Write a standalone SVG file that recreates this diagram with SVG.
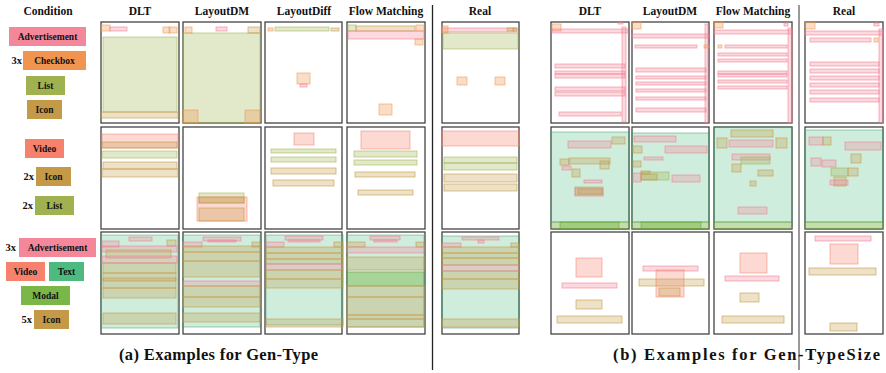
<svg xmlns="http://www.w3.org/2000/svg" width="886" height="373" viewBox="0 0 886 373">
<style>
text{font-family:"Liberation Serif","DejaVu Serif",serif;font-weight:bold;fill:#111}
.h{font-size:11.5px;text-anchor:middle}
.c{font-size:9.5px;text-anchor:middle}
.n{font-size:10.5px;text-anchor:end}
.cap{font-size:16.5px}
.f{fill:#fff;stroke:#444;stroke-width:1.3}
.ad{fill:#f4889a;fill-opacity:.32;stroke:#f0788e;stroke-opacity:.6;stroke-width:.9}
.cb{fill:#f0944f;fill-opacity:.32;stroke:#f0944f;stroke-opacity:.6;stroke-width:.9}
.li{fill:#9fb24f;fill-opacity:.3;stroke:#9fb24f;stroke-opacity:.6;stroke-width:.9}
.ic{fill:#c49a48;fill-opacity:.3;stroke:#c49a48;stroke-opacity:.65;stroke-width:.9}
.vi{fill:#f6826e;fill-opacity:.3;stroke:#f6826e;stroke-opacity:.6;stroke-width:.9}
.tx{fill:#4dbb80;fill-opacity:.27;stroke:#2e9a60;stroke-opacity:.5;stroke-width:.9}
.mo{fill:#7ab648;fill-opacity:.45;stroke:#5a9a38;stroke-opacity:.5;stroke-width:.9}
</style>
<rect width="886" height="373" fill="#fff"/>

<g id="headers">
<text class="h" x="48" y="15">Condition</text>
<text class="h" x="140" y="15">DLT</text>
<text class="h" x="222" y="15">LayoutDM</text>
<text class="h" x="304" y="15">LayoutDiff</text>
<text class="h" x="386" y="15">Flow Matching</text>
<text class="h" x="480" y="15">Real</text>
<text class="h" x="590" y="15">DLT</text>
<text class="h" x="670" y="15">LayoutDM</text>
<text class="h" x="753" y="15">Flow Matching</text>
<text class="h" x="844" y="15">Real</text>
</g>

<g id="separators">
<line x1="432.5" y1="5" x2="432.5" y2="370" stroke="#222" stroke-width="1.3"/>
<line x1="799" y1="5" x2="799" y2="370" stroke="#777" stroke-width="1.5"/>
</g>

<g id="cond1">
<rect x="9" y="27" width="77" height="19" fill="#f4889a"/><text class="c" x="47.5" y="40">Advertisement</text>
<text class="n" x="22" y="64">3x</text>
<rect x="23" y="51" width="63" height="19" fill="#f0944f"/><text class="c" x="54.5" y="64">Checkbox</text>
<rect x="26" y="76" width="39" height="19" fill="#9fb24f"/><text class="c" x="45.5" y="89">List</text>
<rect x="27" y="100" width="35" height="19" fill="#c49a48"/><text class="c" x="44.5" y="113">Icon</text>
</g>
<g id="cond2">
<rect x="25" y="139" width="39" height="19" fill="#f6826e"/><text class="c" x="44.5" y="152">Video</text>
<text class="n" x="34" y="180">2x</text>
<rect x="36" y="167" width="35" height="19" fill="#c49a48"/><text class="c" x="53.5" y="180">Icon</text>
<text class="n" x="33" y="209">2x</text>
<rect x="35" y="196" width="39" height="19" fill="#9fb24f"/><text class="c" x="54.5" y="209">List</text>
</g>
<g id="cond3">
<text class="n" x="16" y="251">3x</text>
<rect x="19" y="238" width="77" height="19" fill="#f4889a"/><text class="c" x="57.5" y="251">Advertisement</text>
<rect x="6" y="262" width="39" height="19" fill="#f6826e"/><text class="c" x="25.5" y="275">Video</text>
<rect x="49" y="262" width="35" height="19" fill="#4dbb80"/><text class="c" x="66.5" y="275">Text</text>
<rect x="21" y="286" width="49" height="19" fill="#7ab648"/><text class="c" x="45.5" y="299">Modal</text>
<text class="n" x="32" y="323">5x</text>
<rect x="34" y="310" width="35" height="19" fill="#c49a48"/><text class="c" x="51.5" y="323">Icon</text>
</g>

<g id="a-dlt-1">
<rect class="f" x="101" y="22" width="78" height="101"/>
<rect class="li" x="103" y="37" width="74" height="75"/>
<rect class="ic" x="101" y="112" width="77" height="6"/>
<rect class="cb" x="101" y="25" width="9" height="6"/>
<rect class="ad" x="110" y="27" width="17" height="4"/>
<rect class="cb" x="163" y="27" width="7" height="6"/>
<rect class="cb" x="169" y="27" width="8" height="6"/>
</g>
<g id="a-ldm-1">
<rect class="f" x="183" y="22" width="78" height="101"/>
<rect class="li" x="183" y="33" width="77" height="90"/>
<rect class="cb" x="185" y="27" width="7" height="6"/>
<rect class="ad" x="216" y="27" width="11" height="4"/>
<rect class="ic" x="248" y="27" width="12" height="6"/>
<rect class="cb" x="183" y="110" width="15" height="13"/>
<rect class="cb" x="245" y="110" width="15" height="13"/>
</g>
<g id="a-ldf-1">
<rect class="f" x="265" y="22" width="77" height="101"/>
<rect class="cb" x="268" y="28" width="5" height="3"/>
<rect class="li" x="275" y="27" width="54" height="4"/>
<rect class="ic" x="331" y="28" width="8" height="3"/>
<rect class="cb" x="297" y="73" width="13" height="11"/>
<rect class="ad" x="300" y="84" width="7" height="3"/>
</g>
<g id="a-fm-1">
<rect class="f" x="347" y="22" width="78" height="101"/>
<rect class="li" x="348" y="25" width="8" height="6"/>
<rect class="ic" x="356" y="26" width="59" height="5"/>
<rect class="cb" x="416" y="25" width="8" height="6"/>
<rect class="ad" x="348" y="31" width="76" height="8"/>
<rect class="cb" x="415" y="39" width="8" height="6"/>
<rect class="cb" x="379" y="104" width="13" height="11"/>
</g>
<g id="a-real-1">
<rect class="f" x="442" y="22" width="77" height="101"/>
<rect class="ad" x="442" y="28" width="75" height="4"/>
<rect class="cb" x="442" y="26" width="6" height="7"/>
<rect class="ic" x="507" y="28" width="7" height="3"/>
<rect class="ic" x="513" y="28" width="4" height="3"/>
<rect class="li" x="443" y="33" width="75" height="16"/>
<rect class="cb" x="457" y="77" width="10" height="8"/>
<rect class="cb" x="495" y="77" width="10" height="8"/>
</g>

<g id="a-dlt-2">
<rect class="f" x="101" y="127" width="78" height="102"/>
<rect class="vi" x="102" y="134" width="76" height="14"/>
<rect class="ic" x="102" y="142" width="75" height="6"/>
<rect class="li" x="102" y="151" width="75" height="7"/>
<rect class="ic" x="103" y="162" width="74" height="7"/>
<rect class="ic" x="102" y="169" width="76" height="8"/>
</g>
<g id="a-ldm-2">
<rect class="f" x="183" y="127" width="78" height="102"/>
<rect class="li" x="199" y="193" width="45" height="10"/>
<rect class="vi" x="197" y="197" width="50" height="24"/>
<rect class="ic" x="199" y="197" width="45" height="6"/>
<rect class="ic" x="199" y="208" width="45" height="13"/>
</g>
<g id="a-ldf-2">
<rect class="f" x="265" y="127" width="77" height="102"/>
<rect class="vi" x="294" y="133" width="20" height="12"/>
<rect class="li" x="271" y="149" width="65" height="4"/>
<rect class="li" x="271" y="157" width="65" height="5"/>
<rect class="ic" x="271" y="168" width="65" height="6"/>
<rect class="ic" x="273" y="180" width="61" height="6"/>
</g>
<g id="a-fm-2">
<rect class="f" x="347" y="127" width="78" height="102"/>
<rect class="vi" x="361" y="131" width="49" height="18"/>
<rect class="li" x="354" y="151" width="63" height="6"/>
<rect class="li" x="354" y="160" width="63" height="5"/>
<rect class="ic" x="355" y="172" width="60" height="5"/>
<rect class="ic" x="358" y="190" width="55" height="5"/>
</g>
<g id="a-real-2">
<rect class="f" x="442" y="127" width="77" height="102"/>
<rect class="vi" x="442" y="131" width="77" height="15"/>
<rect class="li" x="444" y="157" width="73" height="6"/>
<rect class="li" x="444" y="163" width="73" height="7"/>
<rect class="ic" x="444" y="174" width="73" height="8"/>
<rect class="ic" x="444" y="184" width="73" height="7"/>
</g>

<g id="a-dlt-3">
<rect class="f" x="101" y="232" width="78" height="102"/>
<rect class="tx" x="101" y="235" width="77" height="93"/>
<rect class="ad" x="129" y="237" width="23" height="4"/>
<rect class="ad" x="102" y="241" width="17" height="6"/>
<rect class="ic" x="167" y="240" width="9" height="6"/>
<rect class="ad" x="102" y="246" width="75" height="6"/>
<rect class="ic" x="106" y="250" width="65" height="8"/>
<rect class="ad" x="102" y="256" width="75" height="7"/>
<rect class="ic" x="103" y="263" width="73" height="10"/>
<rect class="ic" x="103" y="273" width="73" height="8"/>
<rect class="ic" x="103" y="278" width="73" height="10"/>
<rect class="ic" x="103" y="288" width="73" height="10"/>
<rect class="ic" x="103" y="313" width="73" height="11"/>
</g>
<g id="a-ldm-3">
<rect class="f" x="183" y="232" width="78" height="102"/>
<rect class="tx" x="183" y="235" width="77" height="92"/>
<rect class="ad" x="203" y="237" width="38" height="4"/>
<rect class="ad" x="208" y="240" width="28" height="2" fill-opacity=".6"/>
<rect class="ad" x="183" y="242" width="19" height="5"/>
<rect class="ic" x="252" y="242" width="8" height="5"/>
<rect class="ic" x="183" y="246" width="77" height="6"/>
<rect class="ic" x="183" y="252" width="77" height="9"/>
<rect class="ic" x="183" y="261" width="77" height="16"/>
<rect class="ad" x="183" y="281" width="77" height="5"/>
<rect class="ic" x="183" y="286" width="77" height="11"/>
<rect class="ic" x="183" y="297" width="77" height="10"/>
<rect class="ic" x="183" y="313" width="77" height="9"/>
</g>
<g id="a-ldf-3">
<rect class="f" x="265" y="232" width="77" height="102"/>
<rect class="tx" x="266" y="235" width="77" height="90"/>
<rect class="ad" x="285" y="236" width="38" height="4"/>
<rect class="ad" x="288" y="240" width="32" height="2"/>
<rect class="ad" x="266" y="242" width="18" height="5"/>
<rect class="ic" x="334" y="242" width="9" height="5"/>
<rect class="ic" x="266" y="247" width="77" height="6"/>
<rect class="ic" x="266" y="253" width="77" height="6"/>
<rect class="ic" x="266" y="259" width="77" height="5"/>
<rect class="ad" x="266" y="264" width="77" height="6"/>
<rect class="ic" x="266" y="270" width="77" height="9"/>
<rect class="ic" x="266" y="279" width="77" height="9"/>
<rect class="ic" x="266" y="319" width="77" height="8"/>
</g>
<g id="a-fm-3">
<rect class="f" x="347" y="232" width="78" height="102"/>
<rect class="tx" x="347" y="235" width="77" height="92"/>
<rect class="ad" x="370" y="236" width="30" height="4"/>
<rect class="ad" x="374" y="240" width="23" height="2"/>
<rect class="ic" x="347" y="242" width="18" height="5"/>
<rect class="ic" x="416" y="242" width="8" height="5"/>
<rect class="ad" x="347" y="247" width="77" height="6"/>
<rect class="ic" x="347" y="257" width="77" height="13"/>
<rect class="mo" x="347" y="272" width="77" height="14" fill-opacity=".15"/>
<rect class="ic" x="347" y="286" width="77" height="11"/>
<rect class="ic" x="347" y="297" width="77" height="18"/>
<rect class="ic" x="347" y="315" width="77" height="4"/>
<rect class="ic" x="347" y="319" width="77" height="8"/>
</g>
<g id="a-real-3">
<rect class="f" x="442" y="232" width="77" height="102"/>
<rect class="tx" x="442" y="236" width="77" height="92"/>
<rect class="ad" x="462" y="237" width="37" height="3"/>
<rect class="ad" x="478" y="240" width="6" height="3"/>
<rect class="ad" x="442" y="243" width="19" height="4"/>
<rect class="ic" x="511" y="243" width="8" height="4"/>
<rect class="ic" x="442" y="247" width="77" height="6"/>
<rect class="ic" x="442" y="253" width="77" height="5"/>
<rect class="ic" x="442" y="258" width="77" height="7"/>
<rect class="ad" x="442" y="265" width="77" height="6"/>
<rect class="ic" x="442" y="271" width="77" height="8"/>
<rect class="ic" x="442" y="279" width="77" height="10"/>
<rect class="ic" x="442" y="319" width="77" height="8"/>
</g>

<g id="b-dlt-1">
<rect class="f" x="551" y="22" width="78" height="101"/>
<rect class="cb" x="552" y="24" width="9" height="7"/>
<rect class="ad" x="618" y="22" width="5" height="2"/>
<rect class="ad" x="552" y="29" width="76" height="4"/>
<rect class="ad" x="622" y="27" width="4" height="95"/>
<rect class="ad" x="555" y="64" width="70" height="4"/>
<rect class="ad" x="555" y="71" width="70" height="3"/>
<rect class="ad" x="555" y="74" width="70" height="4"/>
<rect class="ad" x="555" y="87" width="70" height="4"/>
<rect class="ad" x="555" y="92" width="70" height="4"/>
<rect class="ad" x="559" y="112" width="62" height="4"/>
</g>
<g id="b-ldm-1">
<rect class="f" x="632" y="22" width="77" height="101"/>
<rect class="cb" x="632" y="22" width="9" height="7"/>
<rect class="ad" x="632" y="34" width="77" height="4"/>
<rect class="ad" x="705" y="24" width="3" height="99"/>
<rect class="ad" x="635" y="45" width="62" height="3"/>
<rect class="cb" x="704" y="45" width="5" height="3"/>
<rect class="ad" x="636" y="68" width="70" height="4"/>
<rect class="ad" x="636" y="76" width="70" height="3"/>
<rect class="ad" x="636" y="82" width="70" height="3"/>
<rect class="ad" x="636" y="89" width="70" height="3"/>
<rect class="ad" x="636" y="97" width="70" height="3"/>
<rect class="ad" x="636" y="108" width="70" height="4"/>
</g>
<g id="b-fm-1">
<rect class="f" x="714" y="22" width="78" height="101"/>
<rect class="cb" x="714" y="22" width="9" height="6"/>
<rect class="ad" x="784" y="23" width="4" height="3"/>
<rect class="ad" x="714" y="30" width="78" height="4"/>
<rect class="ad" x="788" y="28" width="4" height="95"/>
<rect class="cb" x="718" y="45" width="4" height="3"/>
<rect class="ad" x="725" y="45" width="62" height="3"/>
<rect class="ad" x="718" y="53" width="69" height="3"/>
<rect class="ad" x="718" y="59" width="69" height="3"/>
<rect class="ad" x="718" y="71" width="69" height="3"/>
<rect class="ad" x="718" y="74" width="69" height="3"/>
<rect class="ad" x="718" y="80" width="69" height="3"/>
<rect class="ad" x="718" y="86" width="69" height="3"/>
</g>
<g id="b-real-1">
<rect class="f" x="805" y="22" width="78" height="101"/>
<rect class="cb" x="805" y="22" width="10" height="7"/>
<rect class="ad" x="874" y="23" width="5" height="3"/>
<rect class="ad" x="805" y="31" width="78" height="4"/>
<rect class="ad" x="879" y="29" width="4" height="94"/>
<rect class="ad" x="810" y="38" width="61" height="4"/>
<rect class="cb" x="874" y="38" width="4" height="4"/>
<rect class="ad" x="810" y="62" width="69" height="4"/>
<rect class="ad" x="810" y="69" width="69" height="4"/>
<rect class="ad" x="810" y="76" width="69" height="4"/>
<rect class="ad" x="810" y="83" width="69" height="4"/>
<rect class="ad" x="810" y="90" width="69" height="4"/>
<rect class="ad" x="810" y="98" width="69" height="4"/>
</g>

<g id="b-dlt-2">
<rect class="f" x="551" y="127" width="78" height="102"/>
<rect class="tx" x="551" y="132" width="78" height="90"/>
<rect class="mo" x="551" y="222" width="78" height="7"/>
<rect class="mo" x="560" y="222" width="59" height="7"/>
<rect class="ad" x="568" y="141" width="43" height="7"/>
<rect class="ic" x="612" y="137" width="13" height="7"/>
<rect class="ic" x="560" y="159" width="9" height="6"/>
<rect class="ic" x="569" y="158" width="41" height="6"/>
<rect class="ic" x="600" y="161" width="9" height="8"/>
<rect class="ad" x="562" y="166" width="9" height="4"/>
<rect class="ic" x="572" y="169" width="8" height="8"/>
<rect class="ad" x="584" y="180" width="18" height="3"/>
<rect class="li" x="575" y="187" width="28" height="8"/>
<rect class="ad" x="575" y="188" width="28" height="8"/>
<rect class="ic" x="578" y="189" width="24" height="5"/>
</g>
<g id="b-ldm-2">
<rect class="f" x="632" y="127" width="77" height="102"/>
<rect class="tx" x="632" y="133" width="77" height="89"/>
<rect class="mo" x="632" y="222" width="77" height="7"/>
<rect class="mo" x="641" y="222" width="60" height="7"/>
<rect class="ad" x="634" y="136" width="42" height="6"/>
<rect class="ic" x="633" y="146" width="9" height="7"/>
<rect class="ad" x="665" y="146" width="42" height="7"/>
<rect class="ad" x="644" y="157" width="19" height="3"/>
<rect class="ic" x="633" y="161" width="8" height="6"/>
<rect class="ic" x="641" y="171" width="9" height="3"/>
<rect class="li" x="641" y="172" width="28" height="8"/>
<rect class="ic" x="641" y="174" width="16" height="6"/>
<rect class="ad" x="633" y="173" width="8" height="9"/>
<rect class="ad" x="672" y="175" width="28" height="7"/>
</g>
<g id="b-fm-2">
<rect class="f" x="714" y="127" width="78" height="102"/>
<rect class="tx" x="714" y="127" width="78" height="95"/>
<rect class="mo" x="714" y="222" width="78" height="7"/>
<rect class="ic" x="731" y="130" width="42" height="7"/>
<rect class="ic" x="717" y="138" width="10" height="10"/>
<rect class="ad" x="729" y="140" width="44" height="7"/>
<rect class="ic" x="776" y="138" width="11" height="10"/>
<rect class="ad" x="732" y="154" width="38" height="6"/>
<rect class="li" x="741" y="157" width="29" height="7"/>
<rect class="ic" x="732" y="164" width="9" height="8"/>
<rect class="ic" x="758" y="170" width="15" height="6"/>
<rect class="ic" x="750" y="181" width="6" height="5"/>
<rect class="ad" x="738" y="207" width="29" height="7"/>
</g>
<g id="b-real-2">
<rect class="f" x="805" y="127" width="78" height="102"/>
<rect class="tx" x="805" y="130" width="78" height="92"/>
<rect class="mo" x="805" y="222" width="78" height="7"/>
<rect class="ad" x="809" y="137" width="14" height="8"/>
<rect class="ic" x="823" y="137" width="8" height="8"/>
<rect class="ad" x="845" y="142" width="36" height="8"/>
<rect class="ic" x="851" y="154" width="10" height="9"/>
<rect class="ad" x="811" y="158" width="10" height="8"/>
<rect class="ad" x="822" y="160" width="14" height="7"/>
<rect class="li" x="831" y="168" width="17" height="8"/>
<rect class="ic" x="848" y="168" width="10" height="8"/>
<rect class="ic" x="834" y="177" width="12" height="9"/>
<rect class="ad" x="830" y="180" width="18" height="5"/>
</g>

<g id="b-dlt-3">
<rect class="f" x="551" y="232" width="78" height="102"/>
<rect class="vi" x="576" y="258" width="26" height="19"/>
<rect class="ad" x="562" y="283" width="55" height="5"/>
<rect class="ic" x="576" y="300" width="26" height="9"/>
<rect class="ic" x="557" y="316" width="65" height="7"/>
</g>
<g id="b-ldm-3">
<rect class="f" x="632" y="232" width="77" height="102"/>
<rect class="ad" x="643" y="266" width="55" height="5"/>
<rect class="vi" x="656" y="270" width="28" height="27"/>
<rect class="ic" x="639" y="279" width="65" height="7"/>
<rect class="ic" x="659" y="288" width="21" height="8"/>
</g>
<g id="b-fm-3">
<rect class="f" x="714" y="232" width="78" height="102"/>
<rect class="vi" x="740" y="253" width="27" height="20"/>
<rect class="ad" x="725" y="276" width="54" height="5"/>
<rect class="ic" x="740" y="293" width="19" height="9"/>
<rect class="ic" x="722" y="316" width="62" height="7"/>
</g>
<g id="b-real-3">
<rect class="f" x="805" y="232" width="78" height="102"/>
<rect class="ad" x="815" y="236" width="56" height="5"/>
<rect class="vi" x="830" y="244" width="28" height="20"/>
<rect class="ic" x="809" y="268" width="67" height="7"/>
<rect class="ic" x="830" y="323" width="27" height="8"/>
</g>

<g id="captions">
<text class="cap" x="119" y="360" textLength="199" lengthAdjust="spacing">(a) Examples for Gen-Type</text>
<text class="cap" x="613" y="360" textLength="267" lengthAdjust="spacing">(b) Examples for Gen-TypeSize</text>
</g>
</svg>
